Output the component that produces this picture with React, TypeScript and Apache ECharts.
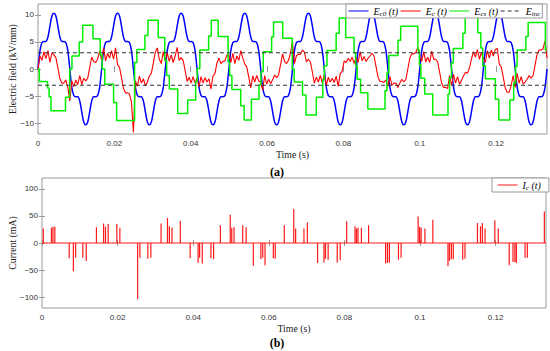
import React, { useEffect, useRef } from "react";
import * as echarts from "echarts";

// ---------- data ----------
const PERIOD = 1 / 60; // s
const T_MAX = 8 * PERIOD; // 0.1333 s
const SAMPLES_PER_PERIOD = 32;

// applied field E_c0(t) over one period (kV/mm), 32 samples
const ec0Period = [
  0, 3.4, 4.9, 5.1, 5.1, 5.9, 7.9, 9.8, 10.3, 9.8, 7.9, 5.9, 5.1, 5.1, 4.9, 3.4,
  0, -3.4, -4.9, -5.1, -5.1, -5.9, -7.9, -9.8, -10.3, -9.8, -7.9, -5.9, -5.1, -5.1, -4.9, -3.4,
];

// cavity field E_c(t) (kV/mm), 257 samples over 8 periods
const ecValues = [
  // period 1
  0, 2.4, 1.6, 3.2, 1.9, 3.4, 1.2, 3.0, 2.6, 2.1, 0.2, -1.8, -2.6, -2.6, -2.0, -3.4,
  -5.9, -2.2, -3.3, -2.0, -2.9, -1.2, -2.9, -1.7, -2.2, -1.7, 0.2, 2.2, 1.4, 1.2, 1.8, 3.3,
  // period 2
  1.6, 3.8, 1.5, 2.9, 2.0, 3.4, 1.8, 3.9, 0.8, 0.3, -1.6, -3.6, -4.4, -4.4, -4.6, -6.1,
  -11.7, -2.2, -3.2, -1.3, -2.6, -1.8, -3.1, -2.4, -1.3, -0.8, 1.1, 3.1, 3.9, 1.8, 1.0, 3.2,
  // period 3
  1.6, 3.0, 1.4, 2.6, 1.2, 2.4, 4.0, 1.6, 2.1, 1.6, -0.3, -2.3, -1.5, -2.6, -1.4, -2.6,
  -1.6, -3.3, -1.4, -2.6, -1.6, -2.4, -1.8, -3.7, -1.3, -0.8, 1.1, 2.0, 1.0, 1.4, 1.5, 2.6,
  // period 4
  2.6, 1.2, 2.9, 1.0, 2.4, 1.6, 3.4, 2.0, 0.9, 0.4, -1.5, -3.5, -1.3, -2.4, -1.2, -2.2,
  -2.4, -3.9, -1.2, -2.8, -1.9, -2.7, -2.0, -1.1, -1.6, -1.1, 0.8, 2.8, 1.4, 1.0, 1.6, 3.0,
  // period 5
  5.0, 1.0, 2.5, 2.7, 2.7, 3.5, 3.1, 1.3, 1.8, 1.3, -0.6, -2.6, -1.5, -2.4, -1.2, -2.6,
  -1.0, -3.0, -1.5, -2.4, -1.7, -2.5, -1.3, -3.2, -0.9, -0.4, 1.5, 1.2, 2.0, 1.4, 2.2, 1.0,
  // period 6
  2.2, 1.2, 3.2, 1.5, 2.3, 1.4, 2.0, 2.4, 2.9, 2.4, 0.5, -1.5, -2.3, -2.3, -2.5, -2.0,
  -3.2, -1.4, -3.0, -2.6, -2.6, -3.4, -2.6, -1.9, -2.4, -1.9, 0.0, 2.0, 2.8, 2.8, 3.0, 4.0,
  // period 7
  2.4, 1.4, 3.2, 1.3, 2.2, 1.2, 3.3, 1.8, 1.8, 1.3, -0.6, -2.6, -3.4, -3.4, -3.6, -1.2,
  -3.0, -1.0, -2.6, -1.4, -2.8, -2.1, -1.3, -0.6, -0.8, 0.2, 1.8, 3.2, 2.2, 3.6, 1.8, 3.0,
  // period 8
  2.0, 1.2, 3.4, 2.0, 3.5, 2.4, 3.6, 3.8, 0.9, 0.4, -1.5, -3.5, -4.3, -4.3, -3.0, -1.2,
  -3.4, -0.8, -2.6, -1.4, -2.8, -2.4, -1.9, -1.2, -1.7, -1.2, 0.7, 2.7, 3.5, 3.5, 3.7, 5.2,
  2.0,
];

// space-charge field E_cs(t): step instants (s) and the level after each step (kV/mm)
const ecsStepTimes = [
  0, 0.00035, 0.0025, 0.0029, 0.0034, 0.0072, 0.0083, 0.0089, 0.0108, 0.0117,
  0.0144, 0.0163, 0.0168, 0.0175, 0.0198, 0.0206, 0.0253, 0.0259, 0.028, 0.0288,
  0.0315, 0.0332, 0.0337, 0.0344, 0.0366, 0.0392, 0.0413, 0.0417, 0.0424, 0.0447,
  0.0454, 0.0472, 0.0498, 0.0502, 0.0508, 0.0531, 0.054, 0.0559, 0.0579, 0.0584,
  0.059, 0.0612, 0.0617, 0.0641, 0.0666, 0.0671, 0.0693, 0.0702, 0.0729, 0.0746,
  0.075, 0.0757, 0.0781, 0.0789, 0.0806, 0.0828, 0.0832, 0.0836, 0.0845, 0.0864,
  0.0909, 0.0914, 0.0919, 0.0943, 0.095, 0.0995, 0.0999, 0.1003, 0.1013, 0.1034,
  0.1074, 0.1078, 0.1083, 0.1088, 0.1113, 0.1119, 0.1152, 0.116, 0.1165, 0.1172,
  0.1198, 0.1207, 0.1236, 0.1246, 0.1251, 0.1255, 0.1278, 0.1284, 0.1329,
];
const ecsLevels = [
  0, -2.3, -3.5, -5.1, -7.7, -5.2, 0.0, 2.4, 5.0, 8.1,
  5.6, 2.6, 0.0, -2.8, -6.2, -9.5, 1.2, 3.6, 6.2, 9.0,
  5.8, 1.6, -1.2, -3.7, -8.2, -5.7, -2.3, 0.1, 3.5, 6.1,
  9.0, 6.0, 1.3, -1.2, -3.8, -6.8, -9.4, -5.6, -2.9, -0.5,
  3.2, 5.9, 8.7, 5.7, 0.0, -2.4, -4.8, -8.5, -5.2, -2.0,
  0.6, 3.4, 6.6, 9.4, 5.8, 3.0, 0.6, -1.9, -4.4, -7.4,
  -4.0, -0.7, 2.5, 5.3, 7.9, 3.5, 0.8, -1.7, -4.6, -8.5,
  -4.6, -1.6, 1.1, 3.8, 6.6, 10.0, 6.7, 3.9, 0.6, -1.8,
  -5.6, -9.4, -5.7, -2.6, 0.5, 3.5, 6.0, 8.6, 3.5,
];

// inception field (kV/mm)
const eIncLevel = 3;

// discharge current pulses I_c(t): instants (s) and amplitudes (mA)
const icTimes = [
  0.00035, 0.0025, 0.0029, 0.0034, 0.0072, 0.0083, 0.0089, 0.0108, 0.0117, 0.0144,
  0.0163, 0.0168, 0.0175, 0.0198, 0.0206, 0.0253, 0.0259, 0.028, 0.0288, 0.0315,
  0.0332, 0.0337, 0.0344, 0.0366, 0.0392, 0.0413, 0.0417, 0.0424, 0.0447, 0.0454,
  0.0472, 0.0498, 0.0502, 0.0508, 0.0531, 0.054, 0.0559, 0.0579, 0.0584, 0.059,
  0.0612, 0.0617, 0.0641, 0.0666, 0.0671, 0.0693, 0.0702, 0.0729, 0.0746, 0.075,
  0.0757, 0.0781, 0.0789, 0.0806, 0.0828, 0.0832, 0.0836, 0.0845, 0.0864, 0.0909,
  0.0914, 0.0919, 0.0943, 0.095, 0.0995, 0.0999, 0.1003, 0.1013, 0.1034, 0.1074,
  0.1078, 0.1083, 0.1088, 0.1113, 0.1119, 0.1152, 0.116, 0.1165, 0.1172, 0.1198,
  0.1207, 0.1236, 0.1246, 0.1251, 0.1255, 0.1278, 0.1284, 0.1329,
];
const icValues = [
  27, 28, 30, 30, -28, -52, -27, -27, -33, 29,
  36, 30, 35, 35, 28, -104, -27, -29, -27, 36,
  46, 31, 28, 41, -28, -37, -27, -38, -28, -30,
  33, 52, 28, 29, 33, 29, -42, -30, -27, -41,
  -28, -29, 33, 63, 27, 27, 38, -37, -36, -29,
  -31, -36, -32, 40, 31, 27, 28, 28, 33, -38,
  -37, -36, -31, -27, 49, 30, 28, 27, 43, -43,
  -33, -30, -30, -31, -29, 37, 31, 37, 27, 42,
  27, -41, -35, -35, -37, -27, -27, 58,
];

const timeTicks = [0, 0.02, 0.04, 0.06, 0.08, 0.1, 0.12];
const fieldTicks = [-10, -5, 0, 5, 10];
const currentTicks = [-100, -50, 0, 50, 100];

// ---------- styling ----------
const SANS = "'Liberation Sans', Arial, sans-serif";
const SERIF = "'Liberation Serif', 'Times New Roman', serif";
const BORDER = "#9a9a9a";

const legendNames: Record<string, string> = {
  Ec0: "{m|E}{s|c0}{m| (t)}",
  Ec: "{m|E}{s|c}{m| (t)}",
  Ecs: "{m|E}{s|cs}{m| (t)}",
  Einc: "{m|E}{s|inc}",
  Ic: "{m|I}{s|c}{m| (t)}",
};
const legendRich = {
  m: { fontFamily: SERIF, fontStyle: "italic", fontSize: 10, lineHeight: 12, color: "#000" },
  s: { fontFamily: SERIF, fontStyle: "italic", fontSize: 7, lineHeight: 10, padding: [5, 0, 0, 0], color: "#000" },
};

const fmtNum = (v: number) => {
  const s = String(+Number(v).toFixed(3));
  return v < 0 ? "\u2212" + s.slice(1) : s;
};

function timeAxis(gridIndex: number, show: boolean, position: "bottom" | "top") {
  return {
    type: "value",
    gridIndex,
    position,
    min: 0,
    max: T_MAX,
    axisLine: { show: false },
    splitLine: { show: false },
    axisTick: {
      show: true,
      inside: true,
      length: 3,
      customValues: timeTicks,
      lineStyle: { color: BORDER, width: 1 },
    },
    axisLabel: {
      show,
      customValues: timeTicks,
      formatter: fmtNum,
      fontFamily: SANS,
      fontSize: 8,
      color: "#333",
      margin: 5,
    },
    ...(show
      ? {
          name: "Time (s)",
          nameLocation: "middle",
          nameGap: 15,
          nameMoveOverlap: false,
          nameTextStyle: { fontFamily: SERIF, fontSize: 9.8, color: "#222" },
        }
      : {}),
  };
}

function valueAxis(
  gridIndex: number,
  show: boolean,
  position: "left" | "right",
  min: number,
  max: number,
  ticks: number[],
  name: string,
  nameGap: number
) {
  return {
    type: "value",
    gridIndex,
    position,
    min,
    max,
    axisLine: { show: false },
    splitLine: { show: false },
    axisTick: {
      show: true,
      inside: true,
      length: 3,
      customValues: ticks,
      lineStyle: { color: BORDER, width: 1 },
    },
    axisLabel: {
      show,
      customValues: ticks,
      formatter: fmtNum,
      fontFamily: SANS,
      fontSize: 8,
      color: "#333",
      margin: 4,
    },
    ...(show
      ? {
          name,
          nameLocation: "middle",
          nameRotate: 90,
          nameGap,
          nameMoveOverlap: false,
          nameTextStyle: { fontFamily: SERIF, fontSize: 9.8, color: "#222" },
        }
      : {}),
  };
}

const legendBase = {
  itemWidth: 20,
  itemHeight: 11,
  itemGap: 2,
  borderColor: BORDER,
  borderWidth: 1,
  backgroundColor: "#fff",
  selectedMode: false,
  itemStyle: { opacity: 0 },
  lineStyle: { width: 1 },
  formatter: (n: string) => legendNames[n] || n,
  textStyle: { rich: legendRich },
};

export default function App() {
  const ref = useRef<HTMLDivElement>(null);

  useEffect(() => {
    if (!ref.current) return;
    const chart = echarts.init(ref.current, undefined, { renderer: "svg" });
    const dt = PERIOD / SAMPLES_PER_PERIOD;

    const ec0Data = ecValues.map((_, j) => [j * dt, ec0Period[j % SAMPLES_PER_PERIOD]]);
    const ecData = ecValues.map((v, j) => [j * dt, v]);
    const ecsData = ecsStepTimes.map((t, i) => [t, ecsLevels[i]]);
    ecsData.push([T_MAX, ecsLevels[ecsLevels.length - 1]]);

    const icData: number[][] = [[0, 0]];
    icTimes.forEach((t, i) => {
      icData.push([t, 0], [t, icValues[i]], [t, 0]);
    });
    icData.push([T_MAX, 0]);

    chart.setOption({
      animation: false,
      backgroundColor: "#fff",
      grid: [
        {
          left: 38, right: 3, top: 4, height: 130,
          show: true, borderColor: BORDER, borderWidth: 1,
          outerBoundsMode: "none", containLabel: false,
        },
        {
          left: 42, right: 4, top: 178, height: 130,
          show: true, borderColor: BORDER, borderWidth: 1,
          outerBoundsMode: "none", containLabel: false,
        },
      ],
      xAxis: [
        timeAxis(0, true, "bottom"),
        timeAxis(0, false, "top"),
        timeAxis(1, true, "bottom"),
        timeAxis(1, false, "top"),
      ],
      yAxis: [
        valueAxis(0, true, "left", -12, 12, fieldTicks, "Electric field (kV/mm)", 21),
        valueAxis(0, false, "right", -12, 12, fieldTicks, "", 0),
        valueAxis(1, true, "left", -120, 120, currentTicks, "Current (mA)", 25),
        valueAxis(1, false, "right", -120, 120, currentTicks, "", 0),
      ],
      legend: [
        {
          ...legendBase,
          data: ["Ec0", "Ec", "Ecs", "Einc"],
          left: 346,
          top: 4,
          width: 204,
          padding: [1, 2, 1, 2],
        },
        {
          ...legendBase,
          data: ["Ic"],
          left: 492,
          top: 178,
          padding: [1, 8, 1, 5],
        },
      ],
      series: [
        {
          name: "Ec0",
          type: "line",
          xAxisIndex: 0,
          yAxisIndex: 0,
          data: ec0Data,
          symbol: "none",
          smooth: 0.3,
          lineStyle: { color: "#0000ff", width: 1.5 },
          itemStyle: { color: "#0000ff" },
        },
        {
          name: "Ec",
          type: "line",
          xAxisIndex: 0,
          yAxisIndex: 0,
          data: ecData,
          symbol: "none",
          lineStyle: { color: "#ff0000", width: 1.1 },
          itemStyle: { color: "#ff0000" },
        },
        {
          name: "Ecs",
          type: "line",
          xAxisIndex: 0,
          yAxisIndex: 0,
          data: ecsData,
          step: "end",
          symbol: "none",
          lineStyle: { color: "#00ee00", width: 1.5 },
          itemStyle: { color: "#00ee00" },
        },
        {
          name: "Einc",
          type: "line",
          xAxisIndex: 0,
          yAxisIndex: 0,
          data: [
            [0, eIncLevel],
            [T_MAX, eIncLevel],
          ],
          symbol: "none",
          lineStyle: { color: "#333", width: 1, type: [4, 3] },
          itemStyle: { color: "#333" },
        },
        {
          name: "Einc",
          type: "line",
          xAxisIndex: 0,
          yAxisIndex: 0,
          data: [
            [0, -eIncLevel],
            [T_MAX, -eIncLevel],
          ],
          symbol: "none",
          lineStyle: { color: "#333", width: 1, type: [4, 3] },
          itemStyle: { color: "#333" },
        },
        {
          name: "Ic",
          type: "line",
          xAxisIndex: 2,
          yAxisIndex: 2,
          data: icData,
          symbol: "none",
          lineStyle: { color: "#ff1a1a", width: 1.2 },
          itemStyle: { color: "#ff1a1a" },
        },
      ],
      graphic: [
        {
          type: "text",
          x: 277,
          y: 172,
          style: {
            text: "(a)",
            font: `bold 12px ${SERIF}`,
            fill: "#000",
            align: "center",
            verticalAlign: "middle",
            textAlign: "center",
            textVerticalAlign: "middle",
          },
        },
        {
          type: "text",
          x: 277,
          y: 343,
          style: {
            text: "(b)",
            font: `bold 12px ${SERIF}`,
            fill: "#000",
            align: "center",
            verticalAlign: "middle",
            textAlign: "center",
            textVerticalAlign: "middle",
          },
        },
      ],
    });

    return () => chart.dispose();
  }, []);

  return (
    <div
      ref={ref}
      style={{ position: "fixed", left: 0, top: 0, width: 550, height: 351, background: "#fff" }}
    />
  );
}
